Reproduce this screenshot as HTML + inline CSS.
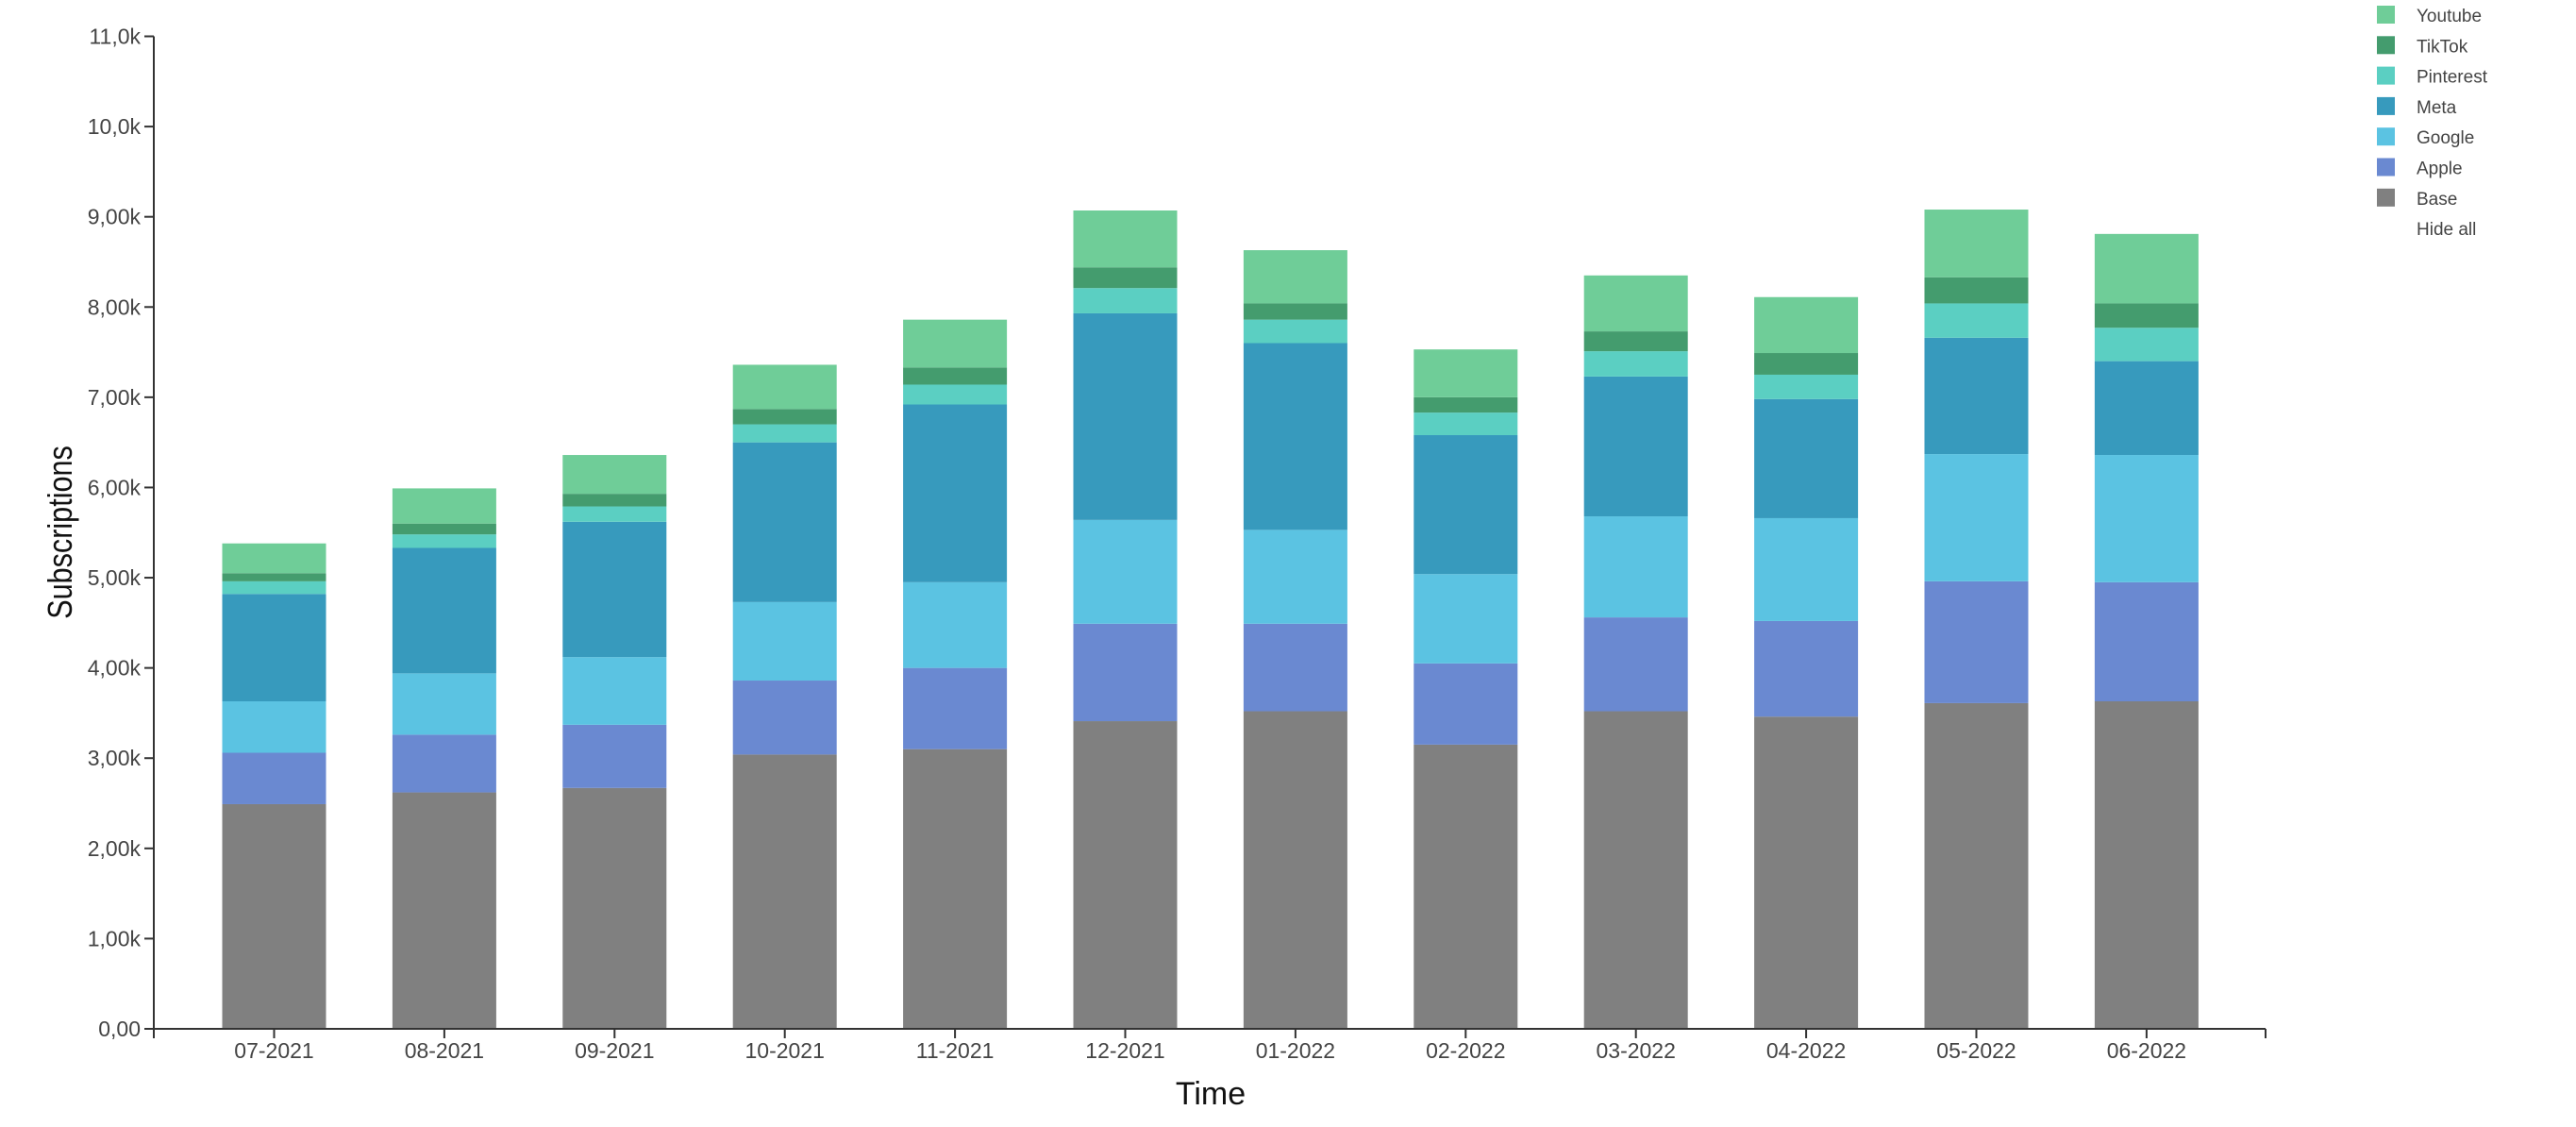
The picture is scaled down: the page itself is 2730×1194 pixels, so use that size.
<!DOCTYPE html>
<html><head><meta charset="utf-8"><style>
html,body{margin:0;padding:0;background:#fff;}
svg{display:block;font-family:"Liberation Sans",sans-serif;}
</style></head><body>
<svg id="chart" width="2730" height="1194" viewBox="0 0 2730 1194" xmlns="http://www.w3.org/2000/svg">
<g id="bars"></g>
<g id="yaxis"></g>
<g id="xaxis"></g>
<text transform="translate(76,564) rotate(-90) scale(0.85,1)" text-anchor="middle" font-size="36" fill="#111">Subscriptions</text>
<text x="1283" y="1170" text-anchor="middle" font-size="34" fill="#111">Time</text>
<g id="legend"></g>
</svg>
<script>
const categories = ["07-2021","08-2021","09-2021","10-2021","11-2021","12-2021","01-2022","02-2022","03-2022","04-2022","05-2022","06-2022"];
const seriesNames = ["Base","Apple","Google","Meta","Pinterest","TikTok","Youtube"];
const base      = [2490,2620,2670,3040,3100,3410,3520,3150,3520,3460,3610,3630];
const apple     = [570,640,700,820,900,1080,970,900,1040,1060,1350,1320];
const google    = [570,680,750,870,950,1150,1040,990,1120,1140,1410,1410];
const meta      = [1190,1390,1500,1770,1970,2290,2070,1540,1550,1320,1290,1040];
const pinterest = [140,150,170,200,220,280,260,250,280,270,380,370];
const tiktok    = [90,120,140,170,190,230,180,170,220,240,290,270];
const youtube   = [330,390,430,490,530,630,590,530,620,620,750,770];
const yTicks = [0,1000,2000,3000,4000,5000,6000,7000,8000,9000,10000,11000];
const yTickLabels = ["0,00","1,00k","2,00k","3,00k","4,00k","5,00k","6,00k","7,00k","8,00k","9,00k","10,0k","11,0k"];
const legendNames = ["Youtube","TikTok","Pinterest","Meta","Google","Apple","Base"];

const series = [base,apple,google,meta,pinterest,tiktok,youtube];
const colors = ["#808080","#6a89d1","#5bc3e2","#379abd","#5bcfc2","#449c6e","#6fcd98"];
const NS="http://www.w3.org/2000/svg";
const X0=163, X1=2401, Y0=1090, Y1=38.5, YMAX=11000;
const step=180.4, firstC=290.5, bw=110;
function y(v){return Y0-(v/YMAX)*(Y0-Y1);}
function xc(i){return firstC+i*step;}
function mk(tag,attrs,parent){const e=document.createElementNS(NS,tag);for(const k in attrs)e.setAttribute(k,attrs[k]);parent.appendChild(e);return e;}

const gb=document.getElementById('bars');
categories.forEach((c,i)=>{
  let acc=0;
  series.forEach((s,j)=>{
    const top=acc+s[i];
    const r=mk('rect',{x:xc(i)-bw/2,y:y(top),width:bw,height:y(acc)-y(top),fill:colors[j]},gb);
    
    
    acc=top;
  });
});

const gy=document.getElementById('yaxis');
mk('line',{x1:X0,y1:Y1,x2:X0,y2:Y0,stroke:'#333','stroke-width':2},gy);
yTicks.forEach((t,i)=>{
  mk('line',{x1:X0-10,y1:y(t),x2:X0,y2:y(t),stroke:'#333','stroke-width':2},gy);
  const tx=mk('text',{x:X0-14,y:y(t)+8,'text-anchor':'end','font-size':23,fill:'#444'},gy);
  
  
  tx.textContent=yTickLabels[i];
});

const gx=document.getElementById('xaxis');
mk('line',{x1:X0,y1:Y0,x2:X1,y2:Y0,stroke:'#333','stroke-width':2},gx);
mk('line',{x1:X0,y1:Y0,x2:X0,y2:Y0+10,stroke:'#333','stroke-width':2},gx);
mk('line',{x1:X1,y1:Y0,x2:X1,y2:Y0+10,stroke:'#333','stroke-width':2},gx);
categories.forEach((c,i)=>{
  mk('line',{x1:xc(i),y1:Y0,x2:xc(i),y2:Y0+10,stroke:'#333','stroke-width':2},gx);
  const tx=mk('text',{x:xc(i),y:Y0+31,'text-anchor':'middle','font-size':23,fill:'#444'},gx);
  
  
  tx.textContent=c;
});

const gl=document.getElementById('legend');
legendNames.forEach((n,i)=>{
  const cy=16+i*32.3;
  const g=mk('g',{},gl);
  
  
  mk('rect',{x:2519,y:cy-10,width:19,height:19,fill:colors[seriesNames.indexOf(n)]},g);
  const t=mk('text',{x:2561,y:cy+7,'font-size':19,fill:'#444'},g);
  t.textContent=n;
});
const h=mk('text',{x:2561,y:16+7*32.3+7,'font-size':19,fill:'#444'},gl);


h.textContent='Hide all';
</script>
</body></html>
